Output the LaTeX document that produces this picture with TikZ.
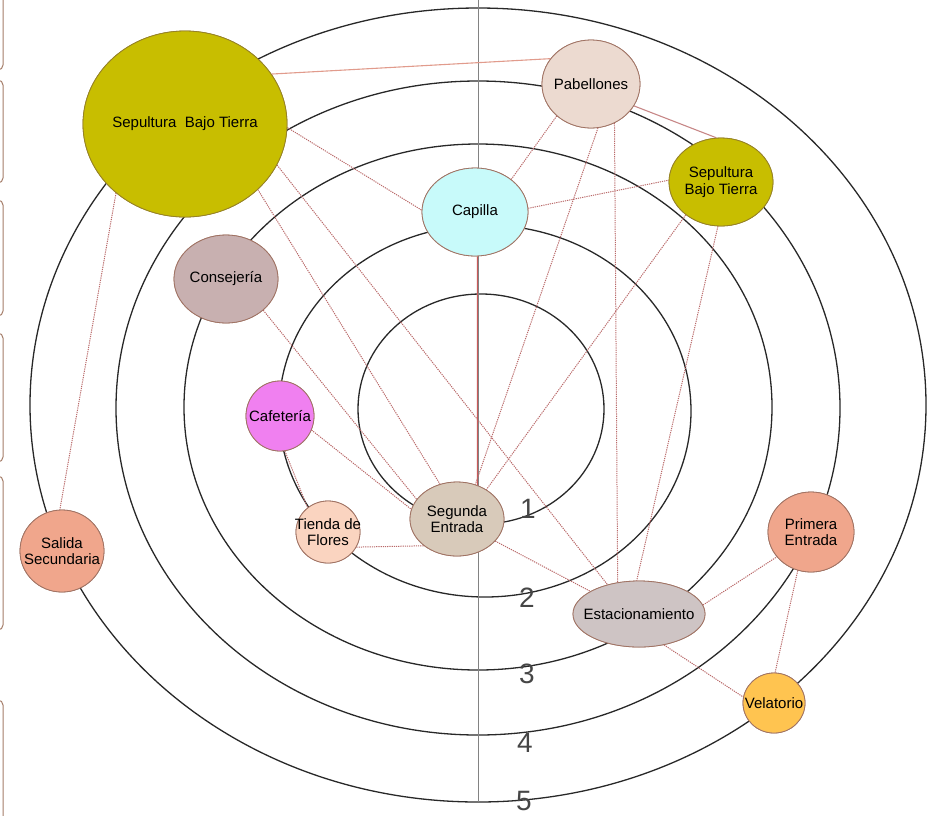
\documentclass[tikz,border=0pt]{standalone}
\usepackage{fontspec}
\setmainfont{Liberation Sans}
\usetikzlibrary{shapes.geometric}
\definecolor{ringc}{RGB}{40,40,40}
\definecolor{axisc}{RGB}{130,130,130}
\definecolor{linkc}{RGB}{185,105,105}
\definecolor{linksolid}{RGB}{225,155,140}
\definecolor{capline}{RGB}{200,90,90}
\definecolor{bracketc}{RGB}{165,125,105}
\definecolor{olive}{RGB}{200,190,0}
\definecolor{oliveb}{RGB}{150,130,40}
\definecolor{pabc}{RGB}{236,218,208}
\definecolor{capc}{RGB}{200,250,250}
\definecolor{consc}{RGB}{200,176,176}
\definecolor{cafc}{RGB}{240,128,240}
\definecolor{tiendac}{RGB}{250,212,192}
\definecolor{segc}{RGB}{216,202,186}
\definecolor{estc}{RGB}{206,196,196}
\definecolor{salmonc}{RGB}{240,166,140}
\definecolor{velc}{RGB}{255,196,80}
\definecolor{nodeb}{RGB}{160,115,100}
\definecolor{digitc}{RGB}{70,70,70}
\begin{document}
\begin{tikzpicture}[x=1pt,y=-1pt,
  ring/.style={draw=ringc,line width=1.3pt},
  bub/.style={ellipse,draw=nodeb,line width=0.8pt,inner sep=0pt},
  txt/.style={inner sep=0pt,align=center,font=\fontsize{15}{16.5}\selectfont},
  dlink/.style={draw=linkc,line width=1pt,dash pattern=on 1.2pt off 1pt},
  slink/.style={draw=linksolid,line width=1.1pt},
  digit/.style={text=digitc,font=\fontsize{28}{30}\selectfont,inner sep=0pt},
  brk/.style={draw=bracketc,line width=1pt,rounded corners=5pt}]
\useasboundingbox (0,0) rectangle (934,815);
% left edge brackets
\draw[brk] (-20,-10) rectangle (3,70);
\draw[brk] (-20,80) rectangle (3,183);
\draw[brk] (-20,200) rectangle (3,316);
\draw[brk] (-20,333) rectangle (3,462);
\draw[brk] (-20,476) rectangle (3,630);
\draw[brk] (-20,700) rectangle (3,830);
% rings
\draw[ring] (478,405) ellipse [x radius=448pt, y radius=397pt];
\draw[ring] (478,408) ellipse [x radius=362pt, y radius=327pt];
\draw[ring] (478,407) ellipse [x radius=294pt, y radius=263pt];
\draw[ring] (485,411) ellipse [x radius=206pt, y radius=186pt];
\draw[ring] (481,409) ellipse [x radius=123pt, y radius=115pt];
% axis
\coordinate (axtop) at (478,0);
\coordinate (axbot) at (478,802);
\draw[draw=axisc,line width=0.9pt] (axtop) -- (axbot);
% digits
\node[digit] (d1) at (528,509) {1};
\node[digit] (d2) at (527,598) {2};
\node[digit] (d3) at (527,674) {3};
\node[digit] (d4) at (525,743) {4};
\node[digit] (d5) at (524,801) {5};
% node shapes (fixed sizes, no text inside)
\path
  (185,124) node[bub,fill=olive,draw=oliveb,minimum width=204pt,minimum height=186pt] (bigsep) {}
  (591,84)  node[bub,fill=pabc,minimum width=98pt,minimum height=88pt] (pab) {}
  (475,212) node[bub,fill=capc,minimum width=106pt,minimum height=88pt] (cap) {}
  (721,182) node[bub,fill=olive,draw=oliveb,minimum width=104pt,minimum height=88pt] (smallsep) {}
  (226,279) node[bub,fill=consc,minimum width=104pt,minimum height=88pt] (cons) {}
  (280,416) node[bub,fill=cafc,minimum width=68pt,minimum height=70pt] (caf) {}
  (328,532) node[bub,fill=tiendac,minimum width=64pt,minimum height=62pt] (tienda) {}
  (457,519) node[bub,fill=segc,minimum width=94pt,minimum height=74pt] (seg) {}
  (639,614) node[bub,fill=estc,minimum width=132pt,minimum height=66pt] (est) {}
  (811,532) node[bub,fill=salmonc,minimum width=86pt,minimum height=80pt] (prim) {}
  (774,703) node[bub,fill=velc,minimum width=62pt,minimum height=60pt] (vel) {}
  (62,551)  node[bub,fill=salmonc,minimum width=84pt,minimum height=82pt] (sal) {};
% connectors
\draw[slink] (bigsep.30) -- (pab.148);
\draw[slink,draw=linkc!80] (pab.-27) -- (smallsep.96);
\draw[dlink] (bigsep.225) -- (sal.93);
\draw[dlink] (bigsep.-2) -- (cap.178);
\draw[dlink] (bigsep.-24) -- (est.137);
\draw[dlink] (bigsep.-42) -- (seg.116);
\draw[dlink] (cons.-40) -- (seg.154);
\draw[dlink] (caf.-24) -- (seg.168);
\draw[dlink] (caf.-82) -- (tienda.130);
\draw[dlink] (tienda.-28) -- (seg.219);
\draw[draw=capline,line width=1pt] (cap.-87) -- (seg.59);
\draw[dlink] (cap.42) -- (pab.223);
\draw[dlink] (cap.4) -- (smallsep.178);
\draw[dlink] (pab.-81) -- (seg.62);
\draw[dlink] (smallsep.223) -- (seg.45);
\draw[dlink] (pab.-59) -- (est.124);
\draw[dlink] (smallsep.-94) -- (est.94);
\draw[dlink] (seg.-30) -- (est.155);
\draw[dlink] (est.8) -- (prim.216);
\draw[dlink] (est.-51) -- (vel.169);
\draw[dlink] (prim.-109) -- (vel.88);
% redraw node shapes on top of connectors
\path
  (185,124) node[bub,fill=olive,draw=oliveb,minimum width=204pt,minimum height=186pt] {}
  (591,84)  node[bub,fill=pabc,minimum width=98pt,minimum height=88pt] {}
  (475,212) node[bub,fill=capc,minimum width=106pt,minimum height=88pt] {}
  (721,182) node[bub,fill=olive,draw=oliveb,minimum width=104pt,minimum height=88pt] {}
  (226,279) node[bub,fill=consc,minimum width=104pt,minimum height=88pt] {}
  (280,416) node[bub,fill=cafc,minimum width=68pt,minimum height=70pt] {}
  (328,532) node[bub,fill=tiendac,minimum width=64pt,minimum height=62pt] {}
  (457,519) node[bub,fill=segc,minimum width=94pt,minimum height=74pt] {}
  (639,614) node[bub,fill=estc,minimum width=132pt,minimum height=66pt] {}
  (811,532) node[bub,fill=salmonc,minimum width=86pt,minimum height=80pt] {}
  (774,703) node[bub,fill=velc,minimum width=62pt,minimum height=60pt] {}
  (62,551)  node[bub,fill=salmonc,minimum width=84pt,minimum height=82pt] {};
% texts
\node[txt] (bigsepT) at (bigsep) {Sepultura\ \ Bajo Tierra};
\node[txt] (pabT) at (pab) {Pabellones};
\node[txt] (capT) at (cap) {Capilla};
\node[txt] (smallsepT) at (smallsep) {Sepultura\\Bajo Tierra};
\node[txt] (consT) at (cons) {Consejería};
\node[txt] (cafT) at (caf) {Cafetería};
\node[txt] (tiendaT) at (tienda) {Tienda de\\Flores};
\node[txt] (segT) at (seg) {Segunda\\Entrada};
\node[txt] (estT) at (est) {Estacionamiento};
\node[txt] (primT) at (prim) {Primera\\Entrada};
\node[txt] (velT) at (vel) {Velatorio};
\node[txt] (salT) at (sal) {Salida\\Secundaria};
\end{tikzpicture}
\end{document}
